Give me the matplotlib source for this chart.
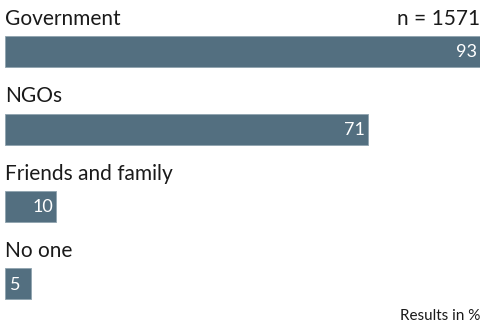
import matplotlib.pyplot as plt
import numpy as np

#### data ####
categories = ['Government', 'NGOs', 'Friends and family', 'No one']
values = [93, 71, 10, 5]
n_label = 'n = 1571'
note = 'Results in %'

bar_color = '#536f80'

#### plot ####
fig = plt.figure(figsize=(4.81, 3.27), dpi=100)
ax = fig.add_axes([5 / 481, 0, 475 / 481, 1])

y = np.arange(len(categories))
ax.barh(y, values, height=0.4, color=bar_color, edgecolor='#8fa3af', linewidth=0.6)
ax.set_xlim(0, 93)
ax.set_ylim(3.555, -0.665)
ax.axis('off')

for i, (cat, v) in enumerate(zip(categories, values)):
    ax.text(0, i - 0.345, cat, ha='left', va='baseline',
            fontsize=15, family='Lato', color='#1a1a1a')
    # small bars get their number on the left
    if v < 8:
        ax.text(0.9, i + 0.01, str(v), ha='left', va='center',
                fontsize=13, family='Lato', color='white')
    else:
        ax.text(v - 0.6, i + 0.01, str(v), ha='right', va='center',
                fontsize=13, family='Lato', color='white')

ax.text(93, -0.345, n_label, ha='right', va='baseline',
        fontsize=15, family='Lato', color='#1a1a1a')
fig.text(0.998, 0.012, note, ha='right', va='bottom',
         fontsize=11, family='Lato', color='#1a1a1a')

fig.savefig('out.png', dpi=100)
